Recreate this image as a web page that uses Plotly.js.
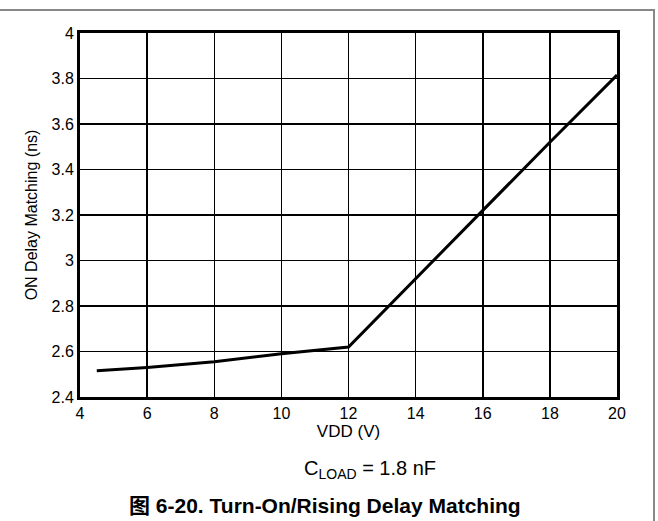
<!DOCTYPE html>
<html><head><meta charset="utf-8">
<script src="https://cdn.plot.ly/plotly-3.0.1.min.js"></script>
<style>body{margin:0;background:#fff}#c{width:658px;height:521px}</style>
</head><body><div id="c"></div>
<script>
const vdd = [4.5, 6, 8, 10, 12, 14, 16, 18, 20];
const delayMatch = [2.515, 2.53, 2.555, 2.59, 2.62, 2.92, 3.22, 3.52, 3.815];
const xTicks = [4, 6, 8, 10, 12, 14, 16, 18, 20];
const yTicks = [2.4, 2.6, 2.8, 3, 3.2, 3.4, 3.6, 3.8, 4];
const yTickText = ['2.4','2.6','2.8','3','3.2','3.4','3.6','3.8','4'];

const L=80, R=617, T=33, B=397;
const px = x => (x-L)/(R-L), py = y => (B-y)/(B-T);
const fam = 'Liberation Sans, Arial, sans-serif';
const font = {family:fam, color:'#000', size:16};

Plotly.newPlot('c', [{
  x: vdd, y: delayMatch, mode:'lines', line:{color:'#000', width:3}, hoverinfo:'skip'
}], {
  width:658, height:521, margin:{l:L, r:658-R, t:T, b:521-B},
  paper_bgcolor:'#fff', plot_bgcolor:'#fff', showlegend:false, font:font,
  xaxis:{range:[4,20], tickvals:xTicks, showgrid:true, gridcolor:'#000', gridwidth:1.5,
    zeroline:false, showline:true, linecolor:'#000', linewidth:3, mirror:true,
    ticks:'', tickfont:font, title:{text:'VDD (V)', font:{family:fam, color:'#000', size:17}, standoff:1}},
  yaxis:{range:[2.4,4], tickvals:yTicks, ticktext:yTickText, showgrid:true, gridcolor:'#000', gridwidth:1.5,
    zeroline:false, showline:true, linecolor:'#000', linewidth:3, mirror:true,
    ticks:'', tickfont:font, title:{text:'ON Delay Matching (ns)', font:font, standoff:10}},
  shapes:[
    {type:'line', xref:'paper', yref:'paper', x0:px(0), x1:px(655), y0:py(10), y1:py(10), line:{color:'#888', width:2}},
    {type:'line', xref:'paper', yref:'paper', x0:px(654), x1:px(654), y0:py(10), y1:py(521), line:{color:'#888', width:2}}
  ],
  annotations:[
    {xref:'paper', yref:'paper', x:px(370), y:py(469), xanchor:'center', yanchor:'middle', text:'C<sub>LOAD</sub> = 1.8 nF', showarrow:false, font:{family:fam, size:20, color:'#000'}},
    {xref:'paper', yref:'paper', x:px(325), y:py(505), xanchor:'center', yanchor:'middle', text:'<b>图 6-20. Turn-On/Rising Delay Matching</b>', showarrow:false, font:{family:'Liberation Sans, Noto Sans CJK SC, sans-serif', size:21, color:'#000'}}
  ]
}, {staticPlot:true});
</script></body></html>
